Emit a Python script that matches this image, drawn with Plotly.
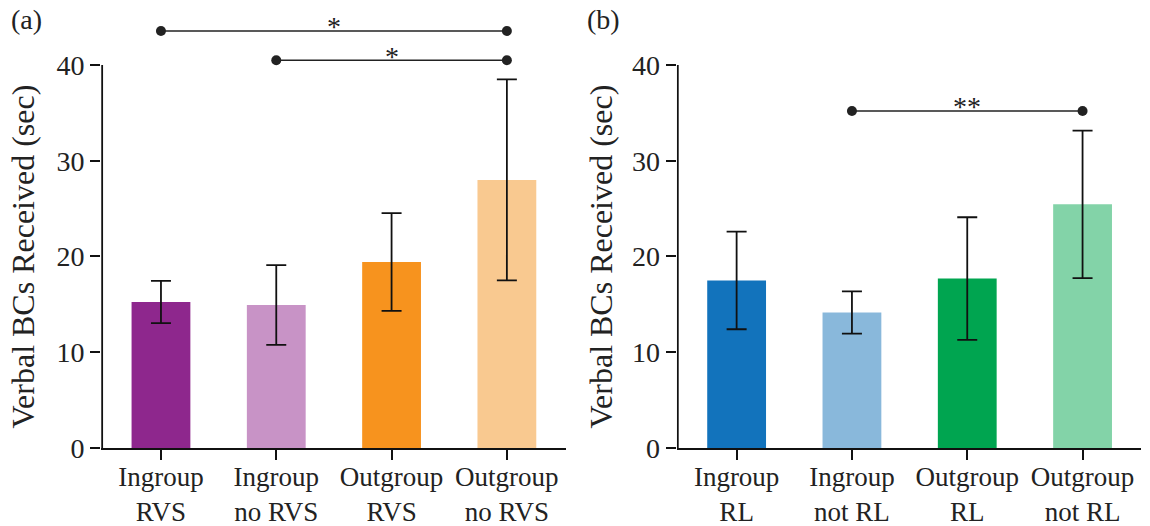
import plotly.graph_objects as go

# ---------------- data ----------------
left_labels = ["Ingroup<br>RVS", "Ingroup<br>no RVS", "Outgroup<br>RVS", "Outgroup<br>no RVS"]
left_means = [15.25, 14.93, 19.43, 28.0]
left_errs = [2.2, 4.17, 5.1, 10.5]
left_colors = ["#8E278D", "#C893C6", "#F7931E", "#F9C990"]

right_labels = ["Ingroup<br>RL", "Ingroup<br>not RL", "Outgroup<br>RL", "Outgroup<br>not RL"]
right_means = [17.5, 14.15, 17.7, 25.45]
right_errs = [5.1, 2.2, 6.4, 7.7]
right_colors = ["#1273BC", "#89B8DB", "#00A550", "#83D3A8"]

# significance brackets: (from index, to index, height, label)
left_sig = [(0, 3, 43.55, "*"), (1, 3, 40.5, "*")]
right_sig = [(1, 3, 35.2, "**")]

y_ticks = [0, 10, 20, 30, 40]
y_title = "Verbal BCs Received (sec)"

FONT = "Liberation Serif"
FS = 28
TXT = "#222222"

fig = go.Figure()

def add_panel(labels, means, errs, colors, sig, xa, ya):
    xs = list(range(len(labels)))
    fig.add_trace(go.Bar(
        x=xs, y=means, width=0.51, marker=dict(color=colors, line=dict(width=0)),
        error_y=dict(type="data", array=errs, visible=True, color="#111111",
                     thickness=1.8, width=10),
        xaxis=xa, yaxis=ya, showlegend=False, hoverinfo="skip"))
    for (a, b, h, lab) in sig:
        fig.add_trace(go.Scatter(
            x=[a, b], y=[h, h], mode="lines+markers",
            line=dict(color="#222222", width=1.6),
            marker=dict(color="#222222", size=10),
            xaxis=xa, yaxis=ya, showlegend=False, hoverinfo="skip"))
        fig.add_annotation(x=(a + b) / 2, y=h, xref=xa, yref=ya, text=lab,
                           showarrow=False, yanchor="middle", yshift=4,
                           font=dict(family=FONT, size=FS, color=TXT))
    # left spine limited to 0..40
    fig.add_shape(type="line", xref=xa, yref=ya, x0=-0.51, x1=-0.51,
                  y0=0, y1=max(y_ticks), line=dict(color="#111111", width=1.8))

add_panel(left_labels, left_means, left_errs, left_colors, left_sig, "x", "y")
add_panel(right_labels, right_means, right_errs, right_colors, right_sig, "x2", "y2")

ydom = [0.14829, 0.96749]
xcommon = dict(range=[-0.52, 3.51], showgrid=False, zeroline=False, showline=True,
               linecolor="#111111", linewidth=1.8, ticks="outside", ticklen=10,
               tickwidth=1.5, tickcolor="#111111", tickvals=[0, 1, 2, 3],
               tickfont=dict(family=FONT, size=27, color=TXT), fixedrange=True,
               automargin=False, ticklabelstandoff=-6)
ycommon = dict(range=[0, 45], showgrid=False, zeroline=False, showline=False,
               ticks="outside", ticklen=10, tickwidth=1.5, tickcolor="#111111",
               tickvals=y_ticks, tickfont=dict(family=FONT, size=FS, color=TXT),
               domain=ydom, fixedrange=True, automargin=False)

fig.update_layout(
    width=1150, height=526, autosize=False,
    margin=dict(l=0, r=0, t=0, b=0, autoexpand=False),
    paper_bgcolor="white", plot_bgcolor="white",
    font=dict(family=FONT, size=FS, color=TXT),
    xaxis=dict(xcommon, domain=[0.08783, 0.4919], ticktext=left_labels, anchor="y"),
    yaxis=dict(ycommon, anchor="x"),
    xaxis2=dict(xcommon, domain=[0.5884, 0.9925], ticktext=right_labels, anchor="y2"),
    yaxis2=dict(ycommon, anchor="x2"),
)

# y-axis titles and panel labels
for xp, ya in [(23 / 1150, "y"), (601 / 1150, "y2")]:
    fig.add_annotation(x=xp, y=20, xref="paper", yref=ya, text=y_title,
                       textangle=-90, showarrow=False, xanchor="center", yanchor="middle",
                       font=dict(family=FONT, size=32, color=TXT))
for xp, lab in [(27 / 1150, "(a)"), (603 / 1150, "(b)")]:
    fig.add_annotation(x=xp, y=1 - 20 / 526, xref="paper", yref="paper", text=lab,
                       showarrow=False, xanchor="center", yanchor="middle",
                       font=dict(family=FONT, size=FS, color=TXT))

fig.write_html("out.html", config={"responsive": False, "displayModeBar": False},
               post_script="document.body.style.margin='0px';document.body.style.overflow='hidden';")
